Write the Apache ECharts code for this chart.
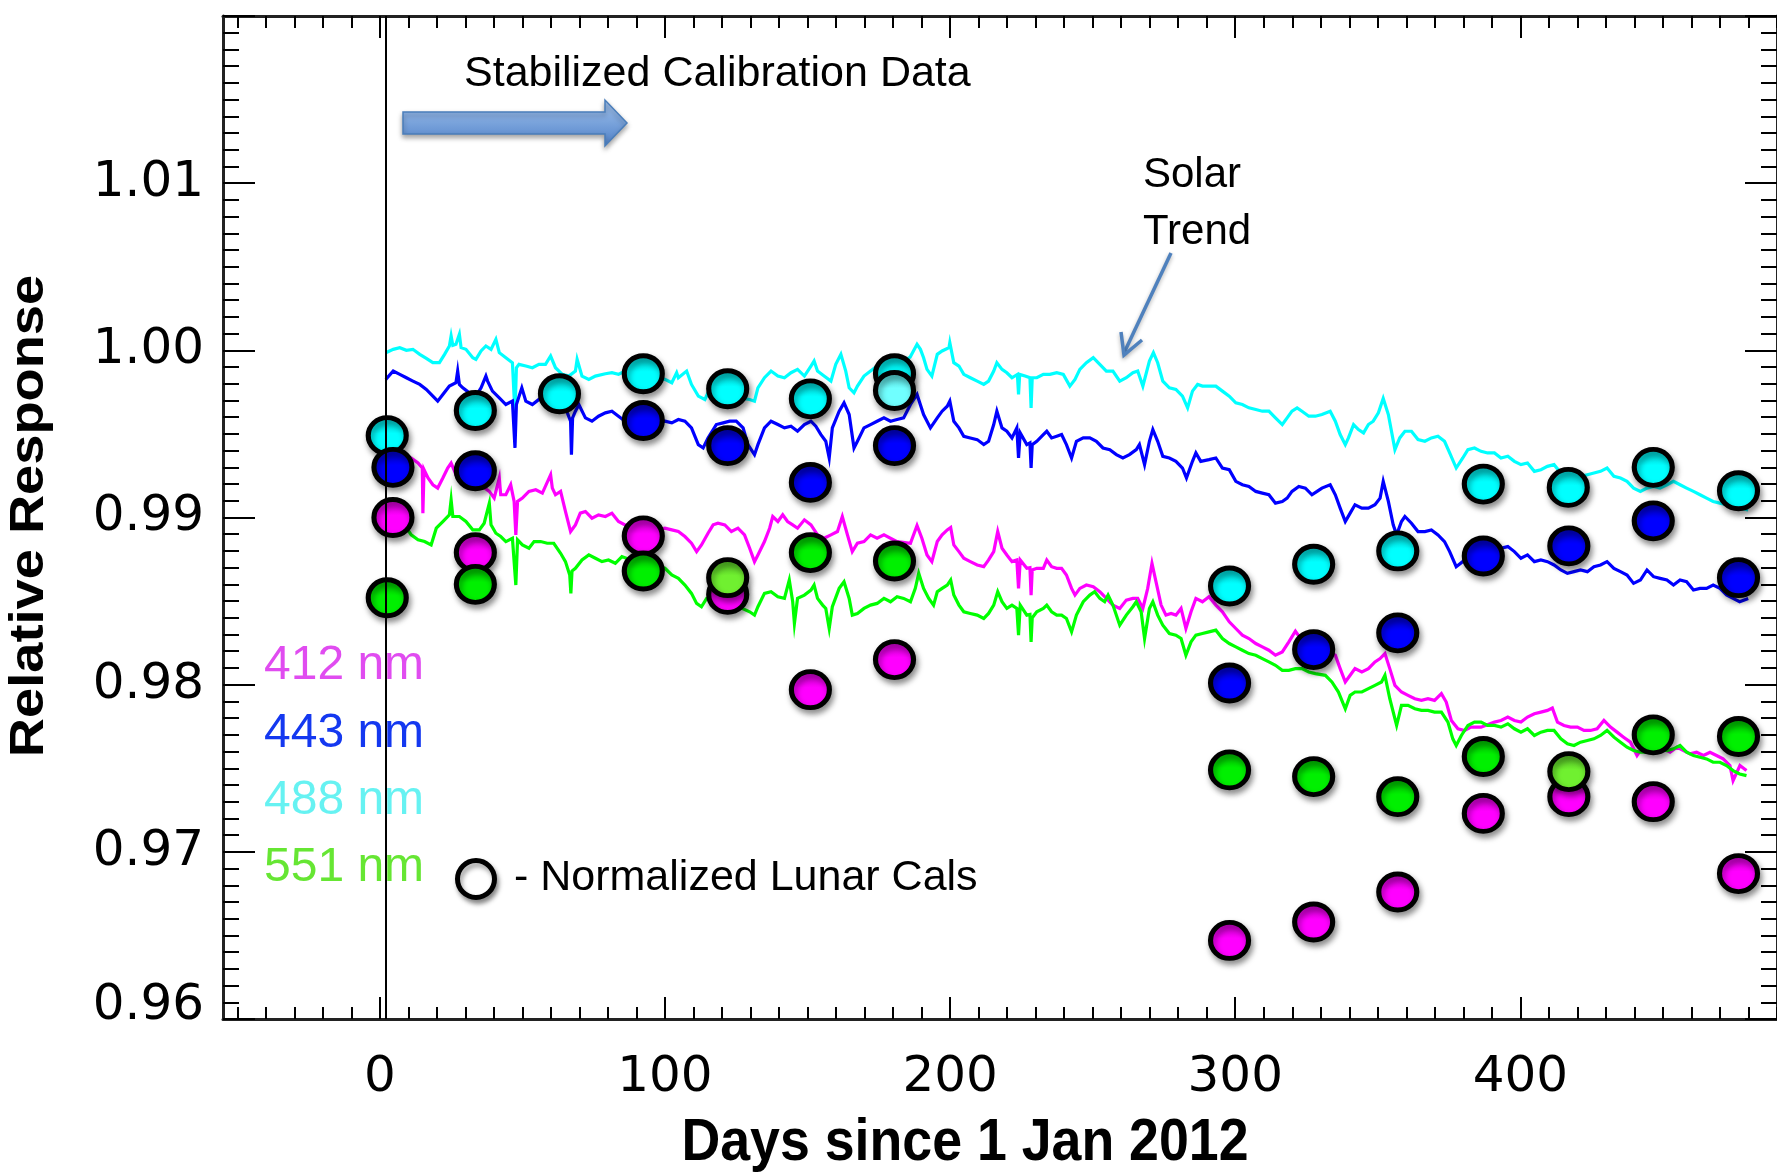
<!DOCTYPE html>
<html>
<head>
<meta charset="utf-8">
<script src="https://cdn.jsdelivr.net/npm/echarts@6/dist/echarts.min.js"></script>
<style>html,body{margin:0;padding:0;background:#fff}#c{width:1777px;height:1174px}</style>
</head>
<body>
<div id="c"></div>
<script>
// ---------------- DATA ----------------
const xTickLabels = [0, 100, 200, 300, 400];
const yTickLabels = [0.96, 0.97, 0.98, 0.99, 1.00, 1.01];
const yMajorTicks = [0.96, 0.97, 0.98, 0.99, 1.00, 1.01, 1.02];
const calStartDay = 2;

// Solar diffuser trend, [day, relative response]
const solar488 = [[2.1,0.99986],[4.7,1.00006],[7.0,1.00016],[9.3,1.0000],[11.6,1.00006],[14.0,0.99976],[16.3,0.99952],[18.6,0.99926],[20.9,0.99926],[22.7,0.99976],[24.4,1.00026],[25.0,1.00086],[25.6,1.0003],[26.7,1.00036],[27.9,1.00096],[28.5,1.00016],[30.2,1.00006],[32.6,0.99956],[33.7,0.99946],[35.5,0.99996],[37.2,1.00026],[39.0,1.00006],[40.7,1.00066],[41.9,0.99986],[44.2,0.99956],[46.5,0.99926],[47.4,0.99616],[47.9,0.99896],[48.8,0.99916],[51.2,0.99906],[53.5,0.99896],[55.8,0.99916],[58.1,0.99916],[59.9,0.99966],[61.6,0.99896],[64.0,0.99856],[66.3,0.99846],[68.6,0.99876],[69.2,0.99946],[70.9,0.99846],[73.3,0.99826],[75.6,0.99846],[79.1,0.9986],[81.4,0.99866],[83.7,0.99856],[86.0,0.99876],[90.0,0.99850],[95.0,0.99830],
[100.0,0.99826],[102.4,0.99806],[104.1,0.99866],[104.7,0.99836],[107.6,0.99876],[109.3,0.99796],[111.7,0.99726],[114.0,0.99706],[115.1,0.99746],[122.1,0.99726],[129.7,0.99706],[131.4,0.99696],[132.6,0.99776],[134.9,0.99836],[137.2,0.99876],[139.6,0.99846],[141.9,0.99836],[144.2,0.99866],[146.5,0.99886],[148.9,0.99846],[151.2,0.99906],[152.3,0.99936],[153.5,0.99876],[155.8,0.99846],[158.2,0.99816],[159.9,0.99916],[161.7,0.99976],[163.4,0.99876],[164.6,0.99776],[166.3,0.99746],[167.5,0.99786],[169.8,0.99846],[172.1,0.99876],[174.4,0.99906],[180.0,0.99896],[183.0,0.99930],[186.0,0.99960],[188.4,1.00036],[189.6,1.00006],[190.7,0.99956],[191.9,0.99886],[193.6,0.99846],
[195.5,0.99976],[197.2,0.99996],[199.6,1.00016],[199.9,1.00046],[201.3,0.99926],[203.1,0.99906],[204.8,0.99856],[207.1,0.99836],[209.5,0.99816],[211.8,0.99796],[213.5,0.99816],[215.3,0.99876],[216.4,0.99926],[218.2,0.99886],[219.9,0.99866],[221.7,0.99836],[223.6,0.99856],[224.0,0.99736],[224.4,0.99856],[226.3,0.99846],[228.0,0.99836],[228.4,0.99656],[228.8,0.99836],[230.4,0.99836],[232.7,0.99856],[235.0,0.99856],[237.4,0.99866],[239.7,0.99856],[242.0,0.99786],[243.8,0.99826],[245.5,0.99886],[247.8,0.99926],[250.2,0.99956],[252.5,0.99916],[254.8,0.99876],[257.1,0.99876],[259.5,0.99816],[261.8,0.99836],[264.1,0.99866],[265.8,0.99876],[267.6,0.99786],[269.9,0.99936],[271.3,0.99986],[272.8,0.99926],[274.6,0.99816],[276.9,0.99776],[279.2,0.99766],[281.5,0.99726],[283.3,0.99656],[285.0,0.99756],[286.8,0.99796],[288.5,0.99786],[290.8,0.99786],
[293.2,0.99786],[295.5,0.99756],[297.9,0.99726],[300.2,0.99686],[302.5,0.99676],[304.8,0.99656],[307.2,0.99646],[309.5,0.99636],[311.8,0.99636],[314.1,0.99596],[316.5,0.99556],[318.2,0.99596],[319.9,0.99636],[321.7,0.99656],[323.4,0.99636],[325.8,0.99606],[328.1,0.99606],[330.4,0.99616],[333.3,0.99636],[335.1,0.99576],[336.8,0.99496],[338.6,0.99436],[339.7,0.99476],[341.5,0.99556],[343.2,0.99526],[345.0,0.99506],[346.7,0.99556],[348.4,0.99576],[350.2,0.99626],[351.9,0.99712],[353.7,0.99616],[356.0,0.99406],[357.7,0.99476],[359.5,0.99516],[361.8,0.99516],[364.1,0.99466],[366.5,0.99456],[368.8,0.99476],[371.1,0.99486],[373.4,0.99456],[375.2,0.99386],[377.5,0.99296],[379.8,0.99356],[381.6,0.99406],[383.9,0.99416],[386.2,0.99396],[388.5,0.99386],
[390.9,0.99386],[393.2,0.99356],[395.6,0.99366],[397.9,0.99336],[400.2,0.99316],[402.5,0.99326],[404.9,0.99276],[407.2,0.99286],[409.5,0.99306],[411.8,0.99316],[414.2,0.99266],[416.5,0.99256],[418.8,0.99246],[421.1,0.99246],[423.5,0.99256],[425.8,0.99266],[428.1,0.99276],[430.4,0.99296],[432.8,0.99246],[435.1,0.99236],[437.4,0.99216],[439.7,0.99176],[442.1,0.99156],[444.4,0.99176],[446.7,0.99186],[449.0,0.99176],[451.4,0.99196],[453.7,0.99216],[456.0,0.99196],[458.3,0.99176],[460.7,0.99156],[463.0,0.99136],[465.3,0.99116],[467.6,0.99096],[470.0,0.99086],[472.3,0.99076],[474.6,0.99066],[476.9,0.99056],[479.9,0.99046]];

const solar443 = [[2.1,0.99826],[4.7,0.99876],[7.0,0.99856],[9.3,0.99836],[11.6,0.99816],[14.0,0.99796],[16.3,0.99766],[18.6,0.99726],[20.3,0.99696],[22.1,0.99736],[24.4,0.99786],[26.7,0.99806],[27.3,0.99876],[27.9,0.99796],[29.1,0.99776],[31.4,0.99746],[33.7,0.99726],[35.5,0.99776],[37.2,0.99846],[37.8,0.99816],[39.5,0.99756],[41.9,0.99716],[44.2,0.99676],[46.5,0.99696],[47.4,0.99416],[47.9,0.99676],[49.8,0.99776],[51.2,0.99696],[53.5,0.99676],[55.8,0.99706],[58.1,0.99726],[62.8,0.99716],[65.1,0.99656],[66.9,0.99576],[67.2,0.99376],[67.6,0.99596],[68.6,0.99636],[69.8,0.99676],[72.1,0.99596],[74.4,0.99576],[76.7,0.99606],[79.1,0.99626],[81.4,0.99636],[83.7,0.99606],[86.0,0.99576],[90.0,0.99580],[95.0,0.99570],
[100.0,0.99576],[102.4,0.99566],[104.7,0.99586],[107.0,0.99576],[109.3,0.99536],[111.7,0.99436],[113.4,0.99416],[115.1,0.99476],[118.0,0.99556],[120.4,0.99566],[122.7,0.99576],[125.0,0.99576],[127.4,0.99536],[129.1,0.99436],[131.4,0.99376],[132.6,0.99436],[134.9,0.99536],[137.2,0.99576],[139.6,0.99556],[141.9,0.99536],[144.2,0.99546],[146.5,0.99516],[148.9,0.99556],[151.2,0.99576],[152.9,0.99546],[154.7,0.99496],[156.4,0.99456],[157.6,0.99356],[158.7,0.99536],[161.1,0.99636],[162.8,0.99686],[164.6,0.99616],[166.3,0.99416],[167.5,0.99456],[169.8,0.99536],[172.1,0.99556],[174.4,0.99576],[176.8,0.99596],[179.1,0.99576],[181.4,0.99586],[183.7,0.99596],[186.1,0.99676],[188.4,0.99736],[190.7,0.99616],[193.1,0.99536],
[195.5,0.99596],[197.2,0.99636],[199.0,0.99666],[199.9,0.99696],[201.3,0.99576],[203.1,0.99536],[204.8,0.99486],[207.1,0.99476],[209.5,0.99466],[211.8,0.99436],[213.5,0.99456],[215.3,0.99556],[216.4,0.99636],[218.2,0.99536],[219.9,0.99516],[221.7,0.99476],[223.4,0.99536],[224.0,0.99356],[224.6,0.99506],[226.9,0.99436],[228.0,0.99446],[228.4,0.99296],[228.8,0.99436],[230.4,0.99456],[232.7,0.99496],[233.9,0.99516],[235.6,0.99476],[237.4,0.99486],[239.1,0.99496],[240.8,0.99436],[242.6,0.99356],[244.3,0.99456],[246.7,0.99476],[249.0,0.99476],[251.3,0.99456],[253.6,0.99416],[256.0,0.99406],[258.3,0.99376],[260.6,0.99356],[262.9,0.99376],[265.3,0.99406],[266.4,0.99436],[268.2,0.99316],[269.9,0.99456],[271.1,0.99526],[272.8,0.99456],[274.6,0.99366],[276.9,0.99356],[279.2,0.99336],[281.5,0.99296],[282.9,0.99236],[285.0,0.99336],[286.2,0.99386],[287.9,0.99336],[290.8,0.99346],
[293.2,0.99356],[295.5,0.99296],[297.9,0.99286],[300.2,0.99216],[302.5,0.99196],[304.8,0.99186],[307.2,0.99156],[309.5,0.99146],[311.8,0.99136],[314.1,0.99086],[316.5,0.99096],[318.2,0.99116],[319.9,0.99156],[322.3,0.99186],[324.6,0.99176],[326.9,0.99136],[328.7,0.99156],[330.4,0.99176],[333.3,0.99196],[335.1,0.99136],[336.8,0.99056],[338.6,0.98976],[340.3,0.99026],[342.0,0.99076],[344.4,0.99056],[346.7,0.99056],[349.0,0.99076],[350.8,0.99116],[351.9,0.99216],[353.7,0.99096],[355.4,0.98956],[356.6,0.98896],[358.3,0.98976],[359.5,0.99006],[361.8,0.98966],[364.1,0.98916],[366.5,0.98916],[368.8,0.98926],[371.1,0.98896],[373.4,0.98856],[375.2,0.98796],[377.5,0.98706],[379.8,0.98736],[381.6,0.98776],[383.9,0.98796],[386.2,0.98776],
[390.9,0.98796],[393.2,0.98816],[395.6,0.98826],[397.9,0.98796],[400.2,0.98756],[402.5,0.98776],[404.9,0.98736],[407.2,0.98746],[409.5,0.98736],[411.8,0.98716],[414.2,0.98686],[416.5,0.98666],[418.8,0.98676],[421.1,0.98686],[423.5,0.98676],[425.8,0.98706],[428.1,0.98716],[430.4,0.98736],[432.8,0.98696],[435.1,0.98676],[437.4,0.98656],[439.7,0.98606],[442.1,0.98626],[444.4,0.98686],[446.7,0.98646],[449.0,0.98636],[451.4,0.98626],[453.7,0.98596],[456.0,0.98626],[458.3,0.98616],[460.7,0.98566],[463.0,0.98576],[465.3,0.98576],[467.6,0.98596],[470.0,0.98576],[472.3,0.98536],[474.6,0.98516],[476.9,0.98496],[479.9,0.98516]];

const solar412 = [[2.1,0.99376],[7.0,0.99366],[11.0,0.99356],[13.4,0.99326],[14.9,0.99296],[15.1,0.99026],[15.5,0.99286],[16.9,0.99236],[18.6,0.99196],[20.3,0.99176],[22.1,0.99236],[23.8,0.99296],[25.0,0.99326],[26.7,0.99256],[29.1,0.99226],[33.7,0.99216],[38.4,0.99156],[40.1,0.99116],[41.9,0.99236],[42.4,0.99136],[44.2,0.99136],[45.9,0.99196],[47.1,0.99096],[47.7,0.98896],[48.3,0.99096],[50.0,0.99116],[52.3,0.99156],[54.7,0.99166],[57.0,0.99146],[59.9,0.99256],[60.5,0.99176],[61.6,0.99136],[63.4,0.99156],[65.1,0.99036],[66.9,0.98916],[68.6,0.98956],[70.3,0.99026],[72.1,0.99036],[74.4,0.98996],[76.7,0.99016],[79.1,0.99006],[81.4,0.99026],[83.7,0.98976],[86.0,0.98956],[90.0,0.98950],[94.0,0.98930],
[97.7,0.98926],[100.0,0.98936],[102.4,0.98926],[104.7,0.98916],[107.0,0.98886],[109.3,0.98846],[111.1,0.98796],[112.8,0.98836],[115.1,0.98906],[116.9,0.98956],[118.6,0.98966],[121.0,0.98956],[123.3,0.98916],[125.6,0.98936],[127.9,0.98896],[129.7,0.98816],[131.4,0.98736],[132.6,0.98776],[134.9,0.98856],[136.7,0.98936],[137.8,0.99006],[139.6,0.98976],[141.3,0.99016],[143.0,0.98976],[144.8,0.98956],[146.5,0.98936],[148.9,0.98986],[151.2,0.98956],[153.5,0.98896],[155.8,0.98876],[158.2,0.98896],[160.5,0.98916],[162.2,0.99006],[164.0,0.98896],[165.7,0.98796],[167.5,0.98846],[169.8,0.98856],[172.1,0.98896],[174.4,0.98876],[176.8,0.98896],[181.4,0.98856],[186.1,0.98846],[188.4,0.98952],[190.1,0.98876],[191.9,0.98776],[193.6,0.98736],
[195.5,0.98856],[197.2,0.98896],[199.0,0.98926],[200.2,0.98940],[201.3,0.98836],[203.1,0.98796],[204.8,0.98756],[207.1,0.98736],[209.5,0.98716],[211.8,0.98706],[213.5,0.98746],[215.3,0.98796],[216.7,0.98916],[218.2,0.98816],[219.9,0.98776],[221.7,0.98736],[223.4,0.98746],[224.0,0.98576],[224.6,0.98746],[226.9,0.98696],[228.0,0.98700],[228.4,0.98536],[228.8,0.98686],[230.4,0.98696],[232.7,0.98696],[233.9,0.98746],[235.6,0.98706],[237.4,0.98696],[239.1,0.98696],[240.8,0.98656],[242.6,0.98576],[243.8,0.98536],[245.5,0.98576],[247.8,0.98596],[250.2,0.98586],[252.5,0.98556],[254.8,0.98516],[257.1,0.98476],[259.5,0.98456],[261.8,0.98506],[264.1,0.98516],[265.8,0.98516],[267.6,0.98456],[269.3,0.98576],[270.8,0.98726],[272.2,0.98616],[274.0,0.98476],[275.7,0.98416],[277.5,0.98426],[279.2,0.98416],[281.0,0.98456],[282.7,0.98336],[284.5,0.98436],[286.2,0.98516],[288.5,0.98496],[290.8,0.98526],
[293.2,0.98476],[295.5,0.98436],[297.9,0.98376],[300.2,0.98336],[302.5,0.98296],[304.8,0.98276],[307.2,0.98246],[309.5,0.98226],[311.8,0.98206],[314.1,0.98176],[316.5,0.98196],[318.8,0.98256],[321.1,0.98320],[324.0,0.98250],[328.1,0.98216],[332.0,0.98200],[335.1,0.98176],[336.8,0.98096],[338.6,0.98016],[340.3,0.98056],[342.0,0.98096],[344.4,0.98076],[346.7,0.98096],[349.0,0.98136],[350.8,0.98156],[352.5,0.98186],[354.2,0.98096],[356.0,0.97996],[358.3,0.97956],[360.6,0.97936],[363.0,0.97916],[365.3,0.97906],[367.6,0.97916],[369.9,0.97906],[372.3,0.97946],[374.0,0.97896],[375.8,0.97786],[378.1,0.97736],[380.4,0.97726],[382.7,0.97746],[386.2,0.97746],
[390.9,0.97776],[393.2,0.97786],[395.6,0.97806],[397.9,0.97786],[400.2,0.97776],[402.5,0.97806],[404.9,0.97826],[407.2,0.97836],[409.5,0.97846],[411.2,0.97860],[413.0,0.97776],[415.3,0.97756],[417.6,0.97746],[420.0,0.97746],[422.3,0.97726],[424.6,0.97726],[426.9,0.97736],[429.3,0.97786],[431.6,0.97746],[433.9,0.97716],[436.2,0.97686],[438.6,0.97656],[440.9,0.97576],[443.2,0.97636],[445.5,0.97616],[447.9,0.97616],[450.2,0.97616],[452.5,0.97596],[454.9,0.97626],[457.2,0.97606],[459.5,0.97586],[461.8,0.97596],[464.2,0.97576],[466.5,0.97596],[468.8,0.97576],[471.1,0.97556],[473.5,0.97516],[474.6,0.97426],[477.0,0.97516],[479.3,0.97486]];

const solar551 = [[2.1,0.99016],[5.8,0.98996],[8.7,0.98956],[11.0,0.98896],[13.4,0.98866],[15.7,0.98856],[18.0,0.98836],[19.8,0.98936],[22.1,0.98976],[24.4,0.99016],[25.0,0.99106],[25.6,0.99006],[27.9,0.99006],[30.2,0.98976],[32.6,0.98926],[34.9,0.98926],[36.6,0.98966],[38.4,0.99086],[39.0,0.98956],[40.7,0.98906],[42.4,0.98886],[44.2,0.98856],[46.5,0.98876],[47.7,0.98596],[48.3,0.98866],[50.0,0.98836],[52.3,0.98816],[54.1,0.98856],[56.4,0.98856],[58.7,0.98846],[61.0,0.98846],[63.4,0.98786],[65.1,0.98736],[66.6,0.98656],[67.0,0.98546],[67.4,0.98680],[68.6,0.98696],[70.9,0.98746],[73.3,0.98776],[75.6,0.98756],[77.9,0.98736],[80.2,0.98746],[82.6,0.98726],[84.9,0.98766],[89.0,0.98740],[94.0,0.98720],
[100.0,0.98696],[102.4,0.98656],[104.7,0.98636],[107.0,0.98596],[109.3,0.98546],[111.1,0.98486],[112.8,0.98466],[114.6,0.98516],[122.1,0.98496],[129.7,0.98436],[131.4,0.98416],[132.6,0.98466],[134.9,0.98546],[137.2,0.98556],[139.6,0.98526],[141.9,0.98516],[143.6,0.98626],[144.8,0.98496],[145.4,0.98366],[146.5,0.98516],[148.9,0.98536],[151.2,0.98566],[152.3,0.98596],[153.5,0.98516],[155.3,0.98476],[156.4,0.98456],[157.6,0.98336],[158.7,0.98466],[161.1,0.98576],[162.8,0.98616],[164.6,0.98516],[165.7,0.98416],[167.5,0.98426],[169.8,0.98456],[172.1,0.98476],[174.4,0.98486],[176.8,0.98516],[179.1,0.98496],[181.4,0.98526],[183.7,0.98516],[186.1,0.98496],[187.8,0.98576],[189.0,0.98666],[190.7,0.98576],[192.5,0.98516],[194.2,0.98476],
[195.5,0.98556],[197.2,0.98576],[199.0,0.98596],[200.2,0.98626],[201.3,0.98536],[203.1,0.98476],[204.8,0.98436],[207.1,0.98426],[209.5,0.98416],[211.8,0.98396],[213.5,0.98426],[215.3,0.98476],[216.7,0.98556],[218.2,0.98496],[219.9,0.98456],[221.7,0.98476],[223.4,0.98456],[224.0,0.98296],[224.6,0.98476],[226.9,0.98416],[228.0,0.98420],[228.4,0.98256],[228.8,0.98400],[230.4,0.98436],[232.7,0.98456],[233.9,0.98476],[235.6,0.98436],[237.4,0.98416],[239.1,0.98416],[240.8,0.98396],[242.6,0.98316],[244.3,0.98416],[246.7,0.98496],[249.0,0.98536],[250.7,0.98556],[252.5,0.98516],[254.2,0.98496],[255.4,0.98536],[257.1,0.98476],[259.5,0.98356],[261.8,0.98416],[264.1,0.98466],[265.3,0.98496],[267.0,0.98436],[268.2,0.98276],[269.9,0.98456],[271.1,0.98496],[272.8,0.98416],[274.6,0.98356],[276.9,0.98306],[279.2,0.98296],[281.0,0.98276],[282.7,0.98176],[284.5,0.98256],[286.2,0.98296],[288.5,0.98306],[290.8,0.98316],
[293.2,0.98326],[295.5,0.98276],[297.9,0.98246],[300.2,0.98226],[302.5,0.98206],[304.8,0.98186],[307.2,0.98176],[309.5,0.98156],[311.8,0.98136],[314.1,0.98116],[316.5,0.98086],[318.8,0.98086],[321.1,0.98096],[323.4,0.98096],[325.8,0.98076],[328.1,0.98066],[331.6,0.98056],[333.9,0.98016],[336.2,0.97956],[338.6,0.97856],[340.3,0.97936],[342.0,0.97956],[344.4,0.97956],[346.7,0.97976],[349.0,0.97996],[351.3,0.98016],[352.5,0.98056],[354.2,0.97916],[356.6,0.97756],[358.3,0.97876],[360.6,0.97876],[363.0,0.97856],[365.3,0.97846],[367.6,0.97846],[369.9,0.97836],[372.3,0.97836],[374.6,0.97776],[376.3,0.97676],[377.5,0.97636],[379.3,0.97696],[381.6,0.97756],[383.9,0.97776],[386.2,0.97776],[388.5,0.97756],
[390.9,0.97756],[393.2,0.97746],[395.6,0.97766],[397.9,0.97736],[400.2,0.97716],[402.5,0.97736],[404.9,0.97696],[407.2,0.97716],[409.5,0.97726],[411.8,0.97726],[414.2,0.97676],[416.5,0.97646],[418.8,0.97636],[421.1,0.97656],[423.5,0.97666],[425.8,0.97676],[428.1,0.97696],[430.4,0.97726],[432.8,0.97686],[435.1,0.97656],[437.4,0.97626],[439.7,0.97606],[442.1,0.97596],[444.4,0.97596],[446.7,0.97606],[449.0,0.97616],[451.4,0.97606],[453.7,0.97616],[456.0,0.97636],[458.3,0.97596],[460.7,0.97576],[463.0,0.97566],[465.3,0.97556],[467.6,0.97536],[470.0,0.97536],[472.3,0.97516],[474.6,0.97486],[476.9,0.97466],[479.3,0.97456]];

// Normalized lunar calibrations
const lunarDays488 = [2.6, 33.5, 63, 92.4, 122, 151, 180.5, 298, 327.5, 357, 387, 416.8, 446.6, 476.5];
const lunarVals488 = [0.9949, 0.9964, 0.9974, 0.9986, 0.9977, 0.9971, 0.9986, 0.9859, 0.9872, 0.9880, 0.9920, 0.9918, 0.9930, 0.9916];
const lunarDays443 = [4.6, 33.5, 92.4, 122, 151, 180.5, 298, 327.5, 357, 387, 417, 446.6, 476.5];
const lunarVals443 = [0.9930, 0.9928, 0.9958, 0.9943, 0.9921, 0.9943, 0.9801, 0.9821, 0.9831, 0.9877, 0.9883, 0.9898, 0.9864];
const lunarDays412 = [4.6, 33.5, 92.4, 122, 151, 180.5, 298, 327.5, 357, 387, 417, 446.6, 476.5];
const lunarVals412 = [0.9900, 0.9879, 0.9889, 0.9854, 0.9797, 0.9815, 0.9647, 0.9658, 0.9676, 0.9723, 0.9733, 0.9730, 0.9687];
const lunarDays551 = [2.6, 33.5, 92.4, 151, 180.5, 298, 327.5, 357, 387, 446.6, 476.5];
const lunarVals551 = [0.9852, 0.9860, 0.9868, 0.9879, 0.9874, 0.9749, 0.9745, 0.9733, 0.9757, 0.9770, 0.9769];
// lighter-shaded lunar points
const lunarDays488b = [180.5];
const lunarVals488b = [0.9976];
const lunarDays551b = [122, 417];
const lunarVals551b = [0.9864, 0.9748];

// ---------------- CHART ----------------
const X_MIN = -55, X_MAX = 490, Y_MIN = 0.96, Y_MAX = 1.02;
const xMinor = []; for (let d = -50; d <= 490; d += 10) xMinor.push(d);
const yMinor = []; for (let i = 0; i <= 60; i++) yMinor.push(+(0.96 + i * 0.001).toFixed(3));

const zip = (a, b) => a.map((v, i) => [v, b[i]]);
const lineCol = '#222';
const tickCol = {color: '#000', width: 2};
const labelFont = 'DejaVu Sans';

function xAx(pos, ticks, len, showLine, showLabel) {
  return {
    type: 'value', min: X_MIN, max: X_MAX, position: pos, gridIndex: 0,
    axisLine: {show: showLine, onZero: false, lineStyle: {color: lineCol, width: 3}},
    axisTick: {show: true, inside: true, length: len, customValues: ticks, lineStyle: tickCol},
    axisLabel: showLabel ? {show: true, customValues: xTickLabels, margin: 34, fontSize: 50, fontFamily: labelFont, color: '#000'} : {show: false},
    splitLine: {show: false}
  };
}
function yAx(pos, ticks, len, showLine, showLabel) {
  return {
    type: 'value', min: Y_MIN, max: Y_MAX, position: pos, gridIndex: 0,
    axisLine: {show: showLine, onZero: false, lineStyle: {color: lineCol, width: 3}},
    axisTick: {show: true, inside: true, length: len, customValues: ticks, lineStyle: tickCol},
    axisLabel: showLabel ? {
      show: true, customValues: yTickLabels, margin: 19, fontSize: 50, fontFamily: labelFont, color: '#000',
      formatter: v => (Math.abs(v - 0.96) < 1e-9 ? '{b|0.96}' : v.toFixed(2)),
      rich: {b: {fontSize: 50, fontFamily: labelFont, color: '#000', padding: [0, 0, 26, 0]}}
    } : {show: false},
    splitLine: {show: false}
  };
}

function grad(dark, base) {
  return {type: 'linear', x: 0, y: 0, x2: 0, y2: 1, colorStops: [
    {offset: 0, color: dark}, {offset: 0.45, color: base}, {offset: 1, color: base}]};
}
function lunar(name, days, vals, dark, base) {
  return {
    name, type: 'scatter', xAxisIndex: 0, yAxisIndex: 0, data: zip(days, vals),
    symbol: 'circle', symbolSize: [38, 36], silent: true, z: 4,
    itemStyle: {color: grad(dark, base), borderColor: '#000', borderWidth: 5,
      shadowColor: 'rgba(0,0,0,0.4)', shadowBlur: 6, shadowOffsetX: 2, shadowOffsetY: 4, opacity: 1},
    emphasis: {disabled: true}
  };
}
function trend(name, data, color) {
  return {name, type: 'line', xAxisIndex: 0, yAxisIndex: 0, data, showSymbol: false, symbol: 'none',
    lineStyle: {color, width: 3.2, join: 'miter'}, silent: true, z: 2, emphasis: {disabled: true}};
}

const s488 = trend('488 nm', solar488, '#00ffff');
s488.markLine = {silent: true, symbol: ['none', 'none'], label: {show: false},
  lineStyle: {color: '#000', width: 2, type: 'solid'}, data: [{xAxis: calStartDay}], animation: false};

const txt = (text, x, y, size, color, extra) => Object.assign({
  type: 'text', x, y, z: 1,
  style: {text, fill: color, fontSize: size, fontFamily: 'Liberation Sans',
    textAlign: 'left', textVerticalAlign: 'middle', align: 'left', verticalAlign: 'middle'}
}, extra || {});

const option = {
  animation: false,
  backgroundColor: '#fff',
  grid: {left: 223, top: 16, width: 1561, height: 1003, containLabel: false},
  xAxis: [xAx('bottom', xTickLabels, 22, true, true), xAx('bottom', xMinor, 12, false, false),
          xAx('top', xTickLabels, 22, true, false), xAx('top', xMinor, 12, false, false)],
  yAxis: [yAx('left', yMajorTicks, 32, true, true), yAx('left', yMinor, 16, false, false),
          yAx('right', yMajorTicks, 32, true, false), yAx('right', yMinor, 16, false, false)],
  series: [
    s488,
    trend('443 nm', solar443, '#0000ff'),
    trend('412 nm', solar412, '#ff00ff'),
    trend('551 nm', solar551, '#00ff00'),
    lunar('488 lunar', lunarDays488, lunarVals488, '#00b8b8', '#00ffff'),
    lunar('443 lunar', lunarDays443, lunarVals443, '#0000a8', '#0000ff'),
    lunar('412 lunar', lunarDays412, lunarVals412, '#b800b8', '#ff00ff'),
    lunar('551 lunar', lunarDays551, lunarVals551, '#00a800', '#00f000'),
    lunar('488 lunar b', lunarDays488b, lunarVals488b, '#48c0c0', '#70ffff'),
    lunar('551 lunar b', lunarDays551b, lunarVals551b, '#48a820', '#70f030')
  ],
  graphic: [
    // axis titles
    {type: 'text', x: 30, y: 516, rotation: Math.PI / 2, scaleX: 1.13, z: 1,
     style: {text: 'Relative Response', fill: '#000', fontSize: 48, fontWeight: 'bold', fontFamily: 'Liberation Sans',
       textAlign: 'center', textVerticalAlign: 'middle', align: 'center', verticalAlign: 'middle'}},
    {type: 'text', x: 965, y: 1144, scaleX: 0.91, z: 1,
     style: {text: 'Days since 1 Jan 2012', fill: '#000', fontSize: 59, fontWeight: 'bold', fontFamily: 'Liberation Sans',
       textAlign: 'center', textVerticalAlign: 'middle', align: 'center', verticalAlign: 'middle'}},
    // legend
    txt('412 nm', 264, 666, 48, '#e04cf0'),
    txt('443 nm', 264, 734, 48, '#1438f0'),
    txt('488 nm', 264, 801, 48, '#66f2f2'),
    txt('551 nm', 264, 868, 48, '#66e633'),
    {type: 'circle', z: 1, shape: {cx: 476, cy: 879, r: 18.5},
     style: {fill: '#fff', stroke: '#000', lineWidth: 5, shadowBlur: 5, shadowColor: 'rgba(0,0,0,0.4)', shadowOffsetX: 2, shadowOffsetY: 4}},
    txt('- Normalized Lunar Cals', 514, 878, 43, '#000'),
    // annotations
    txt('Stabilized Calibration Data', 464, 74, 43, '#000'),
    {type: 'polygon', z: 1, shape: {points: [[403, 112], [605, 112], [605, 100], [627, 123], [605, 146], [605, 134], [403, 134]]},
     style: {fill: new echarts.graphic.LinearGradient(0, 0, 0, 1, [{offset: 0, color: '#a3c4ee'}, {offset: 1, color: '#4f81c8'}]),
       stroke: '#4a7ebb', lineWidth: 1.5, shadowBlur: 5, shadowColor: 'rgba(0,0,0,0.35)', shadowOffsetY: 3}},
    txt('Solar', 1143, 175, 42, '#000'),
    txt('Trend', 1143, 232, 42, '#000'),
    {type: 'line', z: 1, shape: {x1: 1171, y1: 253, x2: 1124, y2: 353},
     style: {stroke: '#4f81bd', lineWidth: 3.5, shadowBlur: 4, shadowColor: 'rgba(0,0,0,0.3)', shadowOffsetY: 2}},
    {type: 'polyline', z: 1, shape: {points: [[1121, 332], [1124, 355], [1142, 340]]},
     style: {stroke: '#4f81bd', lineWidth: 3.5, fill: null, shadowBlur: 4, shadowColor: 'rgba(0,0,0,0.3)', shadowOffsetY: 2}}
  ]
};

const chart = echarts.init(document.getElementById('c'), null, {renderer: 'canvas', width: 1777, height: 1174});
chart.setOption(option);
</script>
</body>
</html>
